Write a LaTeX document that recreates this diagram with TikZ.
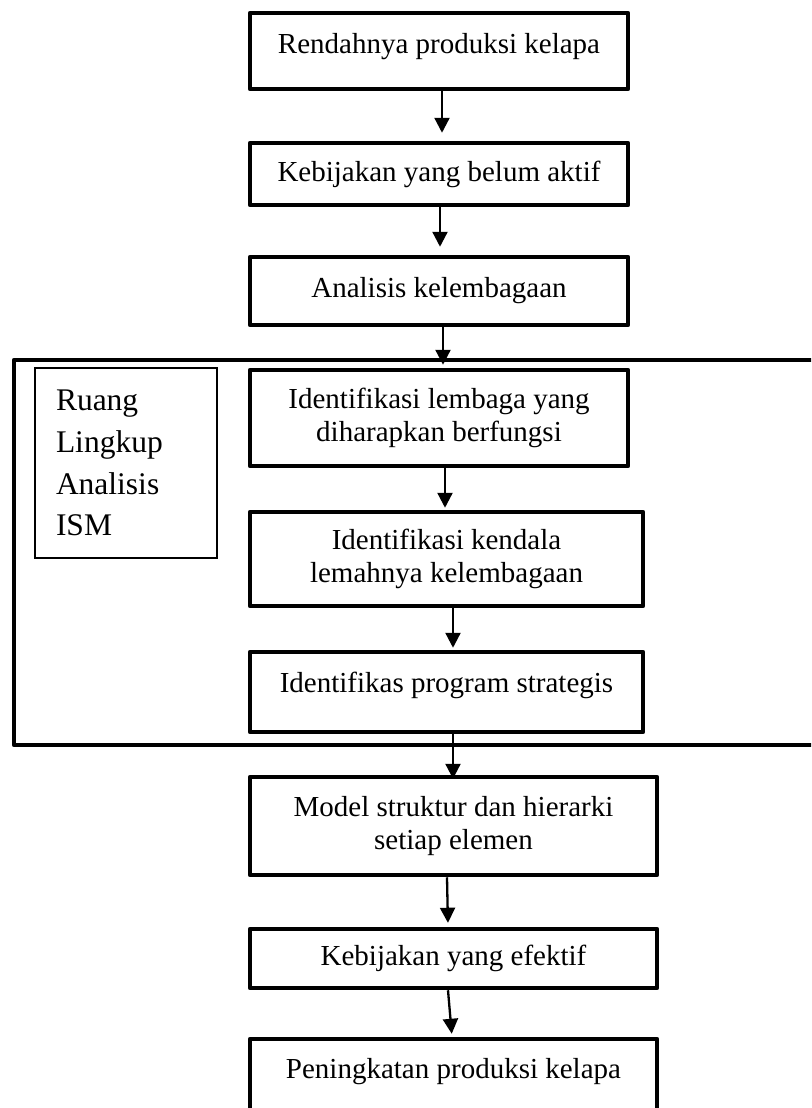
\documentclass[tikz,border=0pt]{standalone}
\usepackage{fontspec}
\setmainfont{Liberation Serif}
\usetikzlibrary{arrows.meta}
\tikzset{
	stepbox/.style={rectangle,draw=black,line width=4.5pt,line join=round,fill=white,align=center,inner sep=0pt,font=\fontsize{29}{33.5}\selectfont},
	scopebox/.style={rectangle,draw=black,line width=1.6pt,align=left,inner xsep=21pt,inner ysep=0pt,text width=140pt,font=\fontsize{31.5}{41.7}\selectfont},
	flowarrow/.style={-{Triangle[length=15pt,width=15pt]},line width=2.3pt},
	framestyle/.style={draw=black,line width=4.5pt,line join=round}
}
\begin{document}
\begin{tikzpicture}[x=1pt,y=-1pt]
	\path[use as bounding box,fill=white] (0,0) rectangle (811,1108);
	\clip (0,0) rectangle (811,1108);
	% frame of the ISM part
	\draw[framestyle] (830,360) -| (14,745) -- (830,745);
	\node[scopebox,minimum height=190] (ism) at (126,463) {Ruang\\Lingkup\\Analisis\\ISM};
	\node[stepbox,minimum width=378,minimum height=76,text height=40pt,text depth=36pt] (1) at (439,51) {Rendahnya produksi kelapa};
	\node[stepbox,minimum width=378,minimum height=62] (2) at (439,174) {Kebijakan yang belum aktif};
	\node[stepbox,minimum width=378,minimum height=68] (3) at (439,291) {Analisis kelembagaan};
	\node[stepbox,minimum width=378,minimum height=96] (4) at (439,418) {Identifikasi lembaga yang\\diharapkan berfungsi};
	\node[stepbox,minimum width=393,minimum height=94] (5) at (446.5,559) {Identifikasi kendala\\lemahnya kelembagaan};
	\node[stepbox,minimum width=393,minimum height=80,text height=40pt,text depth=40pt] (6) at (446.5,692) {Identifikas program strategis};
	\node[stepbox,minimum width=407,minimum height=98] (7) at (453.5,826) {Model struktur dan hierarki\\setiap elemen};
	\node[stepbox,minimum width=407,minimum height=59] (8) at (453.5,958.5) {Kebijakan yang efektif};
	\node[stepbox,minimum width=407,minimum height=76,text height=39pt,text depth=37pt] (9) at (453.5,1077) {Peningkatan produksi kelapa};
	\draw[flowarrow,shorten >=8pt] ([xshift=3pt]1.south) -- ([xshift=3pt]2.north);
	\draw[flowarrow,shorten >=8pt] ([xshift=1pt]2.south) -- ([xshift=1pt]3.north);
	\draw[flowarrow,shorten >=3pt] ([xshift=4pt]3.south) -- ([xshift=4pt]4.north);
	\draw[flowarrow,shorten >=2pt] ([xshift=6pt]4.south) -- ([xshift=-1.5pt]5.north);
	\draw[flowarrow,shorten >=2pt] ([xshift=6.5pt]5.south) -- ([xshift=6.5pt]6.north);
	\draw[flowarrow,shorten >=-4pt] ([xshift=6.5pt]6.south) -- ([xshift=-0.5pt]7.north);
	\draw[flowarrow,shorten >=4pt] ([xshift=-6.5pt]7.south) -- ([xshift=-5.5pt]8.north);
	\draw[flowarrow,shorten >=3pt] ([xshift=-5.5pt]8.south) -- ([xshift=-1.5pt]9.north);
\end{tikzpicture}
\end{document}
